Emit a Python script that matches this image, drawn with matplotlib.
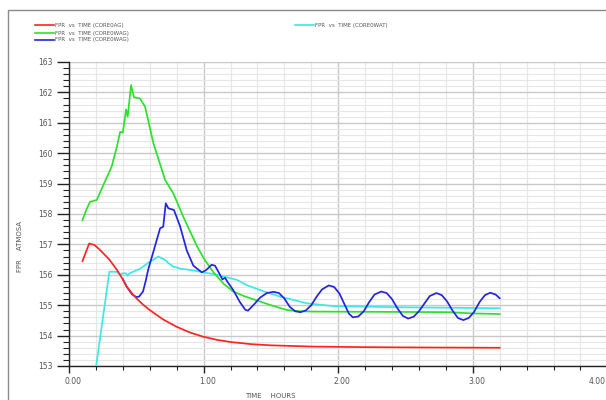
import matplotlib
matplotlib.use("Agg")
import matplotlib.pyplot as plt
import matplotlib.transforms as mtransforms
from matplotlib.patches import Rectangle
from matplotlib.ticker import MultipleLocator

# FPR histories (hours, atm)
t_ag = [0.10, 0.15, 0.19, 0.23, 0.30, 0.355, 0.40, 0.43, 0.47, 0.50, 0.55, 0.60, 0.70,
        0.80, 0.90, 1.00, 1.10, 1.20, 1.35, 1.50, 1.80, 2.20, 2.60, 3.20]
fpr_ag = [156.45, 157.03, 156.98, 156.82, 156.50, 156.17, 155.85, 155.60, 155.38, 155.23,
          155.02, 154.84, 154.53, 154.29, 154.10, 153.96, 153.86, 153.79, 153.72, 153.68,
          153.64, 153.62, 153.61, 153.60]

t_wag = [0.10, 0.13, 0.156, 0.206, 0.255, 0.317, 0.355, 0.38, 0.40, 0.424, 0.436, 0.461,
         0.483, 0.528, 0.565, 0.627, 0.714, 0.775, 0.85, 0.95, 1.00, 1.07, 1.15, 1.22,
         1.30, 1.40, 1.50, 1.62, 1.72, 1.82, 2.40, 2.81, 3.00, 3.20]
fpr_wag = [157.80, 158.15, 158.40, 158.46, 158.95, 159.56, 160.20, 160.70, 160.68, 161.44,
           161.20, 162.24, 161.84, 161.80, 161.53, 160.33, 159.12, 158.68, 157.90, 156.95,
           156.55, 156.10, 155.70, 155.45, 155.30, 155.15, 155.00, 154.84, 154.80, 154.79,
           154.78, 154.77, 154.73, 154.71]

t_wag2 = [0.40, 0.43, 0.47, 0.50, 0.52, 0.55, 0.57, 0.59, 0.627, 0.677, 0.70, 0.719, 0.738,
          0.78, 0.825, 0.875, 0.924, 0.987, 1.02, 1.06, 1.085, 1.11, 1.14, 1.16, 1.18, 1.22,
          1.27, 1.31, 1.33, 1.38, 1.42, 1.47, 1.52, 1.56, 1.60, 1.64, 1.68, 1.72, 1.76, 1.80,
          1.84, 1.88, 1.93, 1.97, 2.01, 2.05, 2.08, 2.11, 2.15, 2.19, 2.23, 2.27, 2.32, 2.36,
          2.40, 2.44, 2.48, 2.52, 2.56, 2.60, 2.64, 2.68, 2.73, 2.77, 2.81, 2.85, 2.89, 2.93,
          2.97, 3.01, 3.05, 3.09, 3.13, 3.17, 3.20]
fpr_wag2 = [155.85, 155.60, 155.35, 155.27, 155.28, 155.45, 155.80, 156.20, 156.76, 157.53,
            157.58, 158.35, 158.19, 158.13, 157.60, 156.80, 156.30, 156.08, 156.16, 156.33,
            156.30, 156.10, 155.85, 155.90, 155.75, 155.50, 155.10, 154.85, 154.82, 155.05,
            155.25, 155.40, 155.44, 155.40, 155.22, 154.95, 154.80, 154.77, 154.83, 155.00,
            155.28, 155.52, 155.65, 155.60, 155.38, 155.00, 154.72, 154.60, 154.63, 154.80,
            155.10, 155.35, 155.45, 155.40, 155.20, 154.90, 154.65, 154.56, 154.62, 154.80,
            155.05, 155.30, 155.40, 155.33, 155.12, 154.82, 154.58, 154.51, 154.58, 154.78,
            155.10, 155.33, 155.41, 155.35, 155.23]

t_wat = [0.20, 0.30, 0.355, 0.38, 0.40, 0.424, 0.434, 0.45, 0.528, 0.60, 0.664, 0.69, 0.714,
         0.74, 0.775, 0.83, 0.90, 1.00, 1.10, 1.25, 1.32, 1.45, 1.57, 1.77, 1.965, 2.50, 3.20]
fpr_wat = [152.95, 156.10, 156.10, 156.00, 156.05, 156.05, 155.97, 156.05, 156.20, 156.43,
           156.60, 156.54, 156.49, 156.38, 156.27, 156.20, 156.16, 156.08, 156.00, 155.83,
           155.66, 155.45, 155.28, 155.06, 154.97, 154.93, 154.90]

W, H = 606, 400
fig = plt.figure(figsize=(W / 100, H / 100), dpi=100)

# outer frame of the plot page
fig.patches.append(Rectangle((8 / W, -0.1), 1.2, 1 - 10 / H + 0.1, transform=fig.transFigure,
                             fill=False, edgecolor="#8a8a8a", linewidth=1.0))

ax = fig.add_axes([69 / W, 1 - 366 / H, 1 - 69 / W, (366 - 62) / H])
ax.set_xlim(0, 3.99)
ax.set_ylim(153, 163)

ax.xaxis.set_major_locator(MultipleLocator(1))
ax.xaxis.set_minor_locator(MultipleLocator(0.2))
ax.yaxis.set_major_locator(MultipleLocator(1))
ax.yaxis.set_minor_locator(MultipleLocator(0.2))

ax.grid(which="minor", color="#e6e6e6", linewidth=0.8)
ax.grid(which="major", color="#c8c8c8", linewidth=1.0)
ax.set_axisbelow(True)

for s in ("top", "right"):
    ax.spines[s].set_visible(False)
for s in ("left", "bottom"):
    ax.spines[s].set_color("#222222")
    ax.spines[s].set_linewidth(1.0)

ax.tick_params(axis="y", which="major", length=9, width=1.0, color="#222222",
               labelsize=5.5, labelcolor="#555555", pad=3)
ax.tick_params(axis="y", which="minor", length=4.5, width=0.8, color="#222222")
ax.tick_params(axis="x", which="major", length=5, width=1.0, color="#222222",
               labelsize=5.5, labelcolor="#555555", pad=3)
ax.tick_params(axis="x", which="minor", length=3, width=0.8, color="#222222")

ax.set_xticks([0, 1, 2, 3])
ax.set_xticklabels(["0.00", "1.00", "2.00", "3.00"])
shift = mtransforms.ScaledTranslation(4 / 100, 0, fig.dpi_scale_trans)
for lab in ax.get_xticklabels():
    lab.set_transform(lab.get_transform() + shift)
ax.text(3.99, -0.035, "4.00", transform=ax.get_xaxis_transform(), ha="right", va="top",
        fontsize=5.5, color="#555555")

lw = 1.25
ax.plot(t_wat, fpr_wat, color="#3ce8e8", lw=lw, zorder=3)
ax.plot(t_wag, fpr_wag, color="#2ee02e", lw=lw, zorder=4)
ax.plot(t_wag2, fpr_wag2, color="#2424e0", lw=lw, zorder=5)
ax.plot(t_ag, fpr_ag, color="#ff2424", lw=lw, zorder=6)

# y and x titles
fig.text(20 / W, 1 - 246 / H, "FPR    ATMOSA", rotation=90, ha="center", va="center",
         fontsize=5, color="#555555")
fig.text(270 / W, 1 - 396 / H, "TIME    HOURS", ha="center", va="center",
         fontsize=5, color="#555555")

# legend entries drawn as a key block
keys = [
    (35, 25, "#ff2424", "FPR  vs  TIME (CORE0AG)"),
    (35, 33, "#2ee02e", "FPR  vs  TIME (CORE0WAG)"),
    (35, 40, "#2424e0", "FPR  vs  TIME (CORE0WAG)"),
    (295, 25, "#3ce8e8", "FPR  vs  TIME (CORE0WAT)"),
]
for x0, y0, c, txt in keys:
    fig.add_artist(plt.Line2D([x0 / W, (x0 + 19) / W], [1 - y0 / H, 1 - y0 / H],
                              color=c, lw=1.2, transform=fig.transFigure))
    fig.text((x0 + 20) / W, 1 - y0 / H, txt, ha="left", va="center", fontsize=4,
             color="#555555")

fig.savefig("out.png", dpi=100)
